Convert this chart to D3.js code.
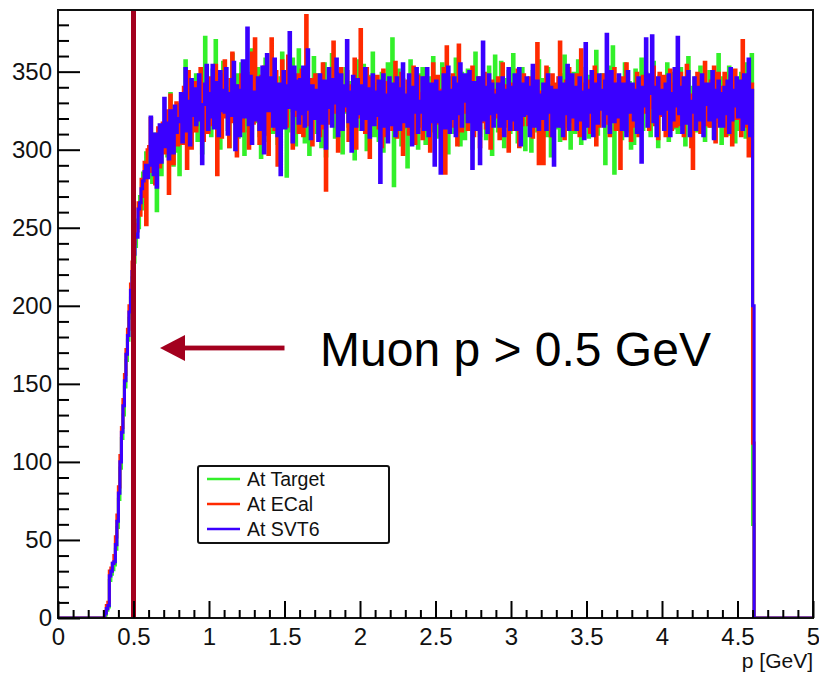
<!DOCTYPE html>
<html>
<head>
<meta charset="utf-8">
<script src="https://cdn.jsdelivr.net/npm/d3@7"></script>
<style>
  html, body { margin: 0; padding: 0; background: #fff; }
  svg { display: block; }
</style>
</head>
<body>
<svg id="chart" width="819" height="676"></svg>
<script>
// Muon momentum spectra, 0.01 GeV bins, first listed bin starts at p = 0.30 GeV
const pStart = 0.30;
const pStep = 0.01;

const atTarget = [
  0, 2, 5, 7, 24, 28, 31, 34, 44, 58,
  76, 96, 115, 130, 148, 165, 178, 192, 205, 218,
  228, 238, 255, 250, 270, 262, 285, 276, 298, 283,
  288, 302, 279, 296, 310, 261, 298, 306, 284, 312,
  300, 322, 296, 314, 336, 305, 290, 318, 327, 299,
  284, 313, 331, 306, 357, 325, 302, 341, 316, 333,
  319, 348, 306, 335, 321, 298, 344, 372, 312, 339,
  330, 309, 351, 324, 370, 342, 316, 301, 337, 356,
  327, 345, 313, 302, 339, 361, 331, 317, 348, 308,
  342, 355, 321, 297, 333, 349, 312, 338, 364, 325,
  318, 336, 352, 309, 295, 329, 344, 358, 320, 306,
  341, 323, 311, 350, 336, 304, 317, 346, 362, 328,
  333, 283, 312, 346, 325, 358, 339, 303, 321, 364,
  347, 318, 329, 305, 351, 336, 297, 322, 343, 359,
  326, 311, 348, 334, 302, 320, 355, 296, 338, 319,
  345, 361, 327, 308, 333, 316, 349, 340, 298, 324,
  352, 330, 315, 343, 307, 326, 294, 339, 357, 321,
  313, 337, 354, 328, 300, 347, 319, 335, 362, 309,
  331, 342, 306, 325, 349, 299, 318, 338, 355, 323,
  340, 371, 277, 316, 334, 351, 327, 303, 345, 329,
  314, 289, 336, 357, 322, 310, 343, 331, 301, 348,
  325, 352, 317, 304, 339, 328, 346, 312, 359, 335,
  321, 340, 308, 333, 355, 316, 327, 344, 298, 331,
  346, 329, 311, 358, 324, 337, 303, 349, 320, 307,
  332, 351, 318, 340, 301, 326, 362, 313, 335, 309,
  322, 345, 336, 307, 329, 353, 316, 297, 341, 360,
  338, 312, 327, 356, 319, 302, 345, 333, 350, 311,
  329, 361, 320, 341, 305, 334, 316, 352, 326, 300,
  317, 343, 331, 299, 350, 324, 339, 312, 357, 328,
  345, 318, 336, 309, 352, 327, 296, 341, 333, 314,
  339, 324, 306, 348, 330, 360, 315, 322, 344, 301,
  326, 349, 311, 334, 357, 320, 304, 337, 315, 352,
  333, 308, 347, 325, 319, 342, 363, 310, 328, 338,
  348, 316, 291, 335, 322, 353, 327, 366, 285, 340,
  319, 345, 330, 307, 338, 355, 312, 326, 343, 301,
  336, 304, 351, 329, 318, 344, 358, 313, 325, 349,
  327, 341, 309, 333, 356, 318, 336, 302, 347, 322,
  342, 317, 330, 355, 306, 328, 349, 314, 338, 325,
  311, 337, 352, 320, 344, 303, 331, 359, 323, 340,
  334, 320, 346, 312, 329, 353, 318, 341, 306, 332,
  325, 350, 315, 337, 308, 344, 327, 361, 319, 304,
  346, 324, 339, 310, 353, 330, 316, 343, 305, 336,
  331, 313, 349, 327, 340, 308, 355, 321, 302, 361,
  60
];

const atECal = [
  0, 4, 8, 10, 30, 32, 35, 40, 52, 66,
  84, 104, 122, 140, 156, 172, 185, 200, 214, 228,
  240, 252, 248, 266, 258, 281, 270, 292, 252, 300,
  302, 320, 286, 309, 278, 296, 314, 289, 306, 317,
  298, 318, 325, 272, 335, 306, 291, 321, 330, 303,
  312, 329, 304, 340, 316, 288, 350, 322, 301, 337,
  343, 312, 331, 320, 352, 318, 306, 340, 327, 311,
  322, 346, 316, 333, 354, 284, 339, 325, 308, 348,
  357, 321, 336, 302, 345, 362, 318, 330, 296, 341,
  329, 348, 312, 356, 323, 338, 301, 344, 362, 317,
  371, 319, 335, 304, 347, 326, 353, 310, 339, 297,
  323, 371, 331, 313, 350, 290, 336, 319, 357, 328,
  344, 315, 360, 327, 352, 301, 338, 322, 348, 311,
  326, 351, 309, 340, 386, 331, 316, 345, 303, 337,
  348, 320, 335, 309, 328, 355, 314, 274, 342, 323,
  317, 339, 369, 324, 347, 299, 333, 352, 316, 337,
  325, 350, 306, 341, 319, 334, 358, 301, 339, 321,
  377, 324, 343, 311, 352, 329, 295, 346, 318, 335,
  320, 347, 314, 338, 302, 351, 327, 309, 343, 331,
  339, 313, 328, 356, 308, 342, 321, 349, 297, 333,
  318, 344, 310, 337, 326, 353, 304, 331, 347, 315,
  336, 307, 346, 323, 314, 341, 299, 328, 355, 320,
  317, 347, 329, 309, 338, 352, 285, 366, 322, 335,
  327, 348, 315, 334, 303, 367, 331, 312, 343, 324,
  344, 313, 339, 325, 353, 309, 335, 318, 346, 302,
  335, 318, 349, 314, 340, 327, 301, 344, 320, 338,
  321, 346, 307, 336, 355, 324, 315, 341, 299, 333,
  342, 313, 339, 320, 351, 302, 334, 316, 348, 327,
  331, 316, 346, 324, 308, 341, 320, 368, 291, 337,
  316, 291, 339, 353, 323, 335, 309, 348, 326, 342,
  325, 346, 369, 315, 337, 307, 344, 322, 352, 318,
  339, 313, 330, 348, 320, 309, 364, 327, 342, 316,
  321, 344, 311, 337, 327, 353, 303, 341, 315, 334,
  329, 348, 317, 335, 345, 309, 339, 322, 352, 313,
  342, 320, 288, 346, 331, 315, 355, 324, 337, 306,
  315, 340, 324, 349, 309, 335, 320, 347, 341, 324,
  344, 313, 335, 327, 353, 316, 340, 307, 349, 322,
  324, 347, 309, 339, 320, 351, 313, 342, 330, 315,
  342, 316, 349, 323, 309, 338, 354, 318, 335, 302,
  288, 337, 320, 349, 331, 311, 344, 324, 356, 316,
  335, 315, 344, 324, 353, 305, 333, 349, 318, 340,
  318, 349, 309, 337, 322, 347, 303, 335, 351, 320,
  339, 322, 309, 370, 331, 315, 344, 296, 325, 342,
  112
];

const atSVT6 = [
  0, 3, 6, 8, 27, 30, 35, 36, 47, 62,
  80, 100, 119, 136, 152, 169, 181, 196, 210, 222,
  233, 246, 244, 262, 266, 275, 280, 286, 290, 282,
  290, 321, 298, 284, 310, 276, 303, 316, 292, 308,
  333, 302, 317, 294, 325, 309, 298, 328, 311, 320,
  318, 336, 305, 327, 352, 312, 331, 303, 345, 322,
  339, 316, 332, 348, 319, 291, 329, 342, 354, 313,
  336, 321, 354, 314, 343, 328, 309, 350, 325, 338,
  324, 352, 310, 336, 322, 345, 356, 300, 341, 319,
  309, 338, 357, 321, 334, 378, 316, 347, 304, 331,
  337, 319, 346, 313, 328, 353, 298, 334, 361, 325,
  329, 346, 315, 358, 324, 309, 342, 284, 320, 350,
  314, 341, 327, 375, 333, 305, 353, 326, 344, 317,
  345, 323, 353, 315, 337, 364, 326, 307, 341, 328,
  320, 338, 306, 348, 317, 331, 344, 301, 327, 352,
  339, 315, 345, 330, 358, 309, 326, 348, 313, 341,
  328, 370, 318, 337, 299, 347, 331, 315, 345, 323,
  341, 313, 330, 352, 320, 339, 308, 329, 348, 316,
  337, 322, 344, 279, 328, 348, 315, 335, 305, 346,
  316, 342, 324, 309, 346, 331, 313, 339, 355, 318,
  335, 315, 348, 326, 303, 340, 324, 352, 311, 331,
  324, 346, 313, 335, 352, 309, 327, 342, 318, 290,
  344, 318, 337, 285, 326, 348, 314, 333, 353, 311,
  320, 338, 346, 309, 342, 323, 355, 315, 331, 348,
  337, 318, 350, 324, 288, 343, 313, 333, 346, 291,
  328, 369, 319, 340, 311, 348, 323, 342, 315, 335,
  324, 342, 315, 336, 346, 309, 338, 320, 352, 313,
  340, 319, 348, 313, 333, 352, 303, 342, 322, 337,
  346, 323, 309, 340, 354, 315, 331, 344, 313, 335,
  320, 342, 328, 313, 348, 324, 340, 309, 290, 338,
  331, 315, 346, 335, 309, 342, 323, 354, 313, 340,
  348, 321, 340, 313, 329, 346, 319, 337, 307, 368,
  315, 338, 324, 350, 309, 333, 342, 317, 348, 326,
  338, 315, 344, 374, 323, 311, 350, 328, 318, 342,
  321, 348, 333, 313, 342, 326, 309, 350, 324, 337,
  342, 319, 338, 311, 346, 324, 292, 340, 328, 371,
  315, 336, 348, 373, 318, 340, 309, 346, 323, 333,
  338, 313, 342, 326, 348, 309, 336, 319, 352, 328,
  372, 323, 340, 311, 346, 317, 338, 350, 309, 331,
  324, 346, 313, 340, 319, 335, 348, 309, 329, 342,
  342, 319, 333, 350, 307, 338, 321, 344, 315, 336,
  315, 340, 323, 344, 311, 352, 319, 338, 328, 346,
  321, 344, 328, 313, 348, 335, 317, 358, 309, 338,
  200
];

const seriesNames = ["At Target", "At ECal", "At SVT6"];
const seriesColors = ["#33f02a", "#ff2a00", "#3a00ff"];

const xMajorTicks = [0, 0.5, 1, 1.5, 2, 2.5, 3, 3.5, 4, 4.5, 5];
const xTickLabels = ["0", "0.5", "1", "1.5", "2", "2.5", "3", "3.5", "4", "4.5", "5"];
const yMajorTicks = [0, 50, 100, 150, 200, 250, 300, 350];
const xTitle = "p [GeV]";
const cutValue = 0.5;
const cutLabel = "Muon p > 0.5 GeV";

// ---- layout ----
const svg = d3.select("#chart");
const frame = { left: 58, right: 813, top: 10, bottom: 618 };
const font = "'Liberation Sans', Arial, Helvetica, sans-serif";

const x = d3.scaleLinear().domain([0, 5]).range([frame.left, frame.right]);
const y = d3.scaleLinear().domain([0, 389.5]).range([frame.bottom, frame.top]);

svg.append("defs").append("clipPath").attr("id", "frameClip")
  .append("rect")
  .attr("x", frame.left).attr("y", frame.top)
  .attr("width", frame.right - frame.left).attr("height", frame.bottom - frame.top);

// full 0–5 GeV histogram with empty bins outside the filled range
const nBins = Math.round(5 / pStep);
function fullHist(vals) {
  const h = new Array(nBins).fill(0);
  const i0 = Math.round(pStart / pStep);
  vals.forEach((v, k) => { h[i0 + k] = v; });
  return h;
}
function stepPoints(h) {
  const pts = [[0, 0]];
  h.forEach((v, i) => { pts.push([i * pStep, v], [(i + 1) * pStep, v]); });
  pts.push([5, 0]);
  return pts;
}

const line = d3.line().x(d => x(d[0])).y(d => y(d[1]));
const histGroup = svg.append("g").attr("clip-path", "url(#frameClip)");
[atTarget, atECal, atSVT6].forEach((vals, i) => {
  histGroup.append("path")
    .attr("d", line(stepPoints(fullHist(vals))))
    .attr("fill", "none")
    .attr("stroke", seriesColors[i])
    .attr("stroke-width", 3.1)
    .attr("stroke-linejoin", "miter");
});

// momentum cut line
svg.append("line")
  .attr("x1", x(cutValue)).attr("x2", x(cutValue))
  .attr("y1", frame.top).attr("y2", frame.bottom)
  .attr("stroke", "#a3001e").attr("stroke-width", 5);

// frame
svg.append("rect")
  .attr("x", frame.left).attr("y", frame.top)
  .attr("width", frame.right - frame.left).attr("height", frame.bottom - frame.top)
  .attr("fill", "none").attr("stroke", "#111").attr("stroke-width", 2);

// ---- axes (ticks drawn inward) ----
function styleAxis(g, size) {
  g.select(".domain").remove();
  g.selectAll(".tick line").attr("stroke", "#000").attr("stroke-width", 2);
  g.selectAll("text").attr("font-family", font).attr("font-size", size).attr("fill", "#111");
}

const yMinor = d3.range(0, 390, 10).filter(v => v % 50 !== 0);
svg.append("g").attr("transform", `translate(${frame.left},0)`)
  .call(d3.axisLeft(y).tickValues(yMinor).tickSize(-11).tickFormat(""))
  .call(g => styleAxis(g, 24));
svg.append("g").attr("transform", `translate(${frame.left},0)`)
  .call(d3.axisLeft(y).tickValues(yMajorTicks).tickSize(-22).tickPadding(6).tickFormat(d3.format("d")))
  .call(g => styleAxis(g, 24));

const xMinor = d3.range(1, 50).map(i => i / 10).filter(v => Math.abs(v * 2 - Math.round(v * 2)) > 1e-6);
svg.append("g").attr("transform", `translate(0,${frame.bottom})`)
  .call(d3.axisBottom(x).tickValues(xMinor).tickSize(-8).tickFormat(""))
  .call(g => styleAxis(g, 24));
svg.append("g").attr("transform", `translate(0,${frame.bottom})`)
  .call(d3.axisBottom(x).tickValues(xMajorTicks).tickSize(-17).tickPadding(10)
    .tickFormat((d, i) => xTickLabels[i]))
  .call(g => styleAxis(g, 24));

svg.append("text")
  .attr("x", frame.right).attr("y", 668)
  .attr("text-anchor", "end")
  .attr("font-family", font).attr("font-size", 21).attr("fill", "#111")
  .text(xTitle);

// ---- legend ----
const legend = svg.append("g");
legend.append("rect")
  .attr("x", 198).attr("y", 466).attr("width", 191).attr("height", 77)
  .attr("rx", 2).attr("fill", "#fff").attr("stroke", "#111").attr("stroke-width", 2);
seriesNames.forEach((name, i) => {
  const ly = 479 + i * 25;
  legend.append("line")
    .attr("x1", 207).attr("x2", 240).attr("y1", ly).attr("y2", ly)
    .attr("stroke", seriesColors[i]).attr("stroke-width", 2.5);
  legend.append("text")
    .attr("x", 247).attr("y", ly).attr("dy", "0.36em")
    .attr("font-family", font).attr("font-size", 19.5).attr("fill", "#111")
    .text(name);
});

// ---- cut annotation ----
const arrowY = 348;
const ann = svg.append("g").attr("fill", "#a3001e");
ann.append("rect")
  .attr("x", 182).attr("y", arrowY - 2.4).attr("width", 102.5).attr("height", 4.8);
ann.append("path")
  .attr("d", `M160,${arrowY} L185,${arrowY - 13} L185,${arrowY + 13} Z`);
svg.append("text")
  .attr("x", 320).attr("y", 366)
  .attr("font-family", font).attr("font-size", 48).attr("fill", "#000")
  .text(cutLabel);
</script>
</body>
</html>
